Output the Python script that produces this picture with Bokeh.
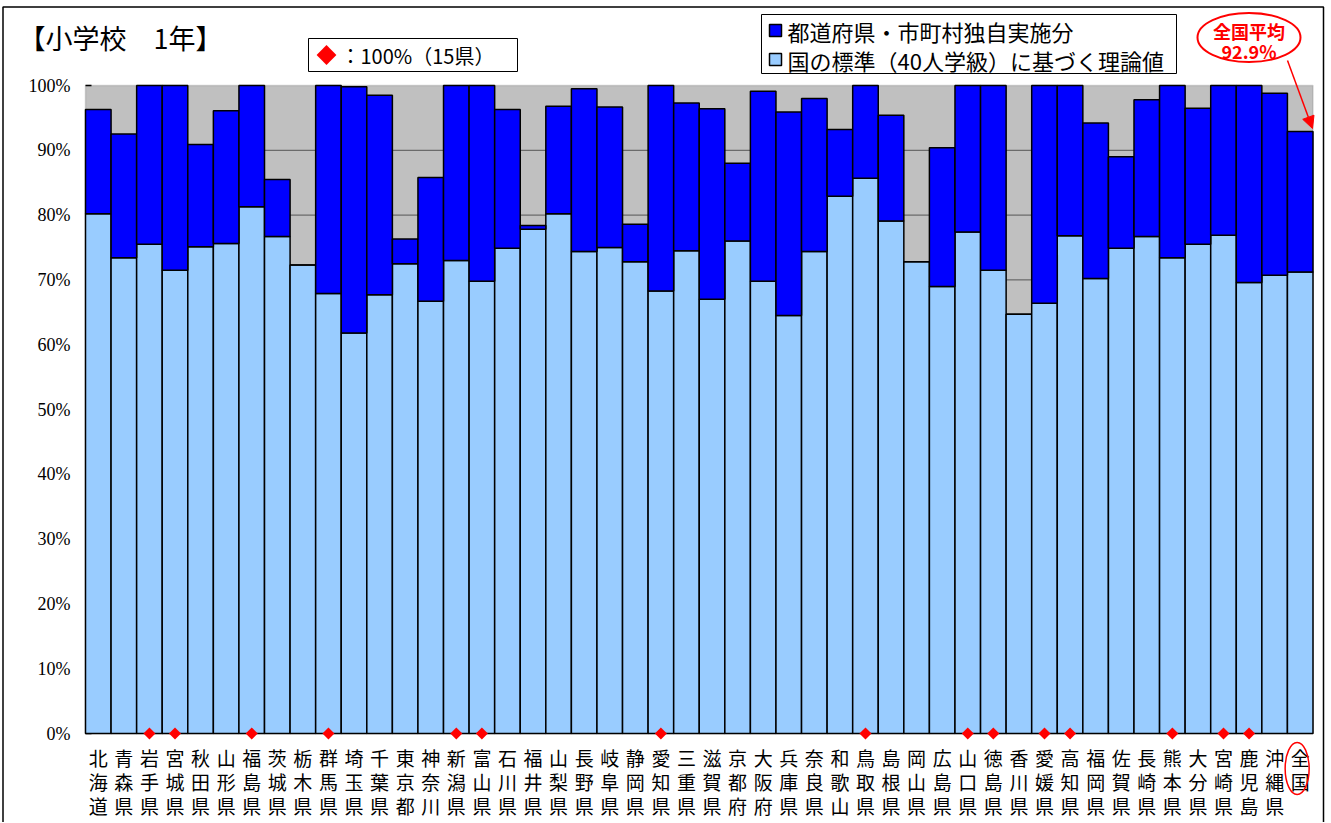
import math
from bokeh.plotting import figure
from bokeh.models import Range1d, BoxAnnotation, Arrow, NormalHead, ColumnDataSource
from bokeh.core.properties import value
from bokeh.embed import file_html
from bokeh.resources import INLINE

# ---------------- data ----------------
prefectures = ["北海道", "青森県", "岩手県", "宮城県", "秋田県", "山形県", "福島県", "茨城県",
               "栃木県", "群馬県", "埼玉県", "千葉県", "東京都", "神奈川", "新潟県", "富山県",
               "石川県", "福井県", "山梨県", "長野県", "岐阜県", "静岡県", "愛知県", "三重県",
               "滋賀県", "京都府", "大阪府", "兵庫県", "奈良県", "和歌山", "鳥取県", "島根県",
               "岡山県", "広島県", "山口県", "徳島県", "香川県", "愛媛県", "高知県", "福岡県",
               "佐賀県", "長崎県", "熊本県", "大分県", "宮崎県", "鹿児島", "沖縄県", "全国"]

# 国の標準（40人学級）に基づく理論値 (%)
national_standard = [80.2, 73.4, 75.5, 71.5, 75.1, 75.6, 81.3, 76.7,
                     72.3, 67.9, 61.8, 67.7, 72.5, 66.7, 73.0, 69.8,
                     74.9, 77.8, 80.2, 74.4, 75.0, 72.8, 68.3, 74.5,
                     67.0, 76.0, 69.8, 64.5, 74.4, 82.9, 85.7, 79.1,
                     72.8, 69.0, 77.4, 71.5, 64.7, 66.4, 76.8, 70.2,
                     74.9, 76.7, 73.4, 75.5, 76.9, 69.6, 70.7, 71.2]

# 合計（理論値＋都道府県・市町村独自実施分） (%)
total_rate = [96.3, 92.5, 100, 100, 90.9, 96.1, 100, 85.5,
              72.3, 100, 99.8, 98.5, 76.3, 85.8, 100, 100,
              96.3, 78.4, 96.8, 99.5, 96.7, 78.6, 100, 97.3,
              96.4, 88.0, 99.1, 95.9, 98.0, 93.2, 100, 95.4,
              72.8, 90.4, 100, 100, 64.7, 100, 100, 94.2,
              89.0, 97.8, 100, 96.5, 100, 100, 98.8, 92.9]

y_ticks = [0, 10, 20, 30, 40, 50, 60, 70, 80, 90, 100]
y_tick_labels = ["0%", "10%", "20%", "30%", "40%", "50%", "60%", "70%", "80%", "90%", "100%"]
series_labels = ["都道府県・市町村独自実施分", "国の標準（40人学級）に基づく理論値"]
title_text = "【小学校　1年】"
full_mark = 100
average_caption = "全国平均"

# ---------------- layout helpers (reference pixel positions) ----------------
W, H = 1330, 822
CANVAS_LEFT, CANVAS_TOP = 0, 0
FRAME_L, FRAME_R = 85, 1312.5
Y0_PX, Y100_PX = 733, 85
n = len(prefectures)
ppu_y = (Y0_PX - Y100_PX) / 100.0
ppu_x = (FRAME_R - FRAME_L) / n


def dx(px):
    return (px - FRAME_L) / ppu_x - 0.5


def dy(py):
    return (Y0_PX - py) / ppu_y


JP = "Noto Sans CJK JP"
BLUE = "#0000FF"
LIGHT = "#99CCFF"

p = figure(width=W, height=H,
           x_range=Range1d(dx(CANVAS_LEFT), dx(CANVAS_LEFT + W)),
           y_range=Range1d(dy(CANVAS_TOP + H), dy(CANVAS_TOP)),
           output_backend="svg", toolbar_location=None, title=None,
           x_axis_location=None, y_axis_location=None,
           min_border_left=0, min_border_right=0, min_border_top=0, min_border_bottom=0)
p.background_fill_color = "white"
p.border_fill_color = "white"
p.outline_line_color = None
p.grid.visible = False

# outer chart border
p.quad(left=[dx(2.5)], right=[dx(1323)], top=[dy(6.5)], bottom=[dy(860)],
       fill_color=None, line_color="black", line_width=1.5)

# gray plot area
p.add_layout(BoxAnnotation(left=-0.5, right=n - 0.5, bottom=0, top=100,
                           fill_color="#C0C0C0", fill_alpha=1,
                           line_color="#808080", line_width=1.5, level="image"))

# horizontal grid lines
grid_y = y_ticks[1:-1]
p.segment(x0=[-0.5] * len(grid_y), x1=[n - 0.5] * len(grid_y), y0=grid_y, y1=grid_y,
          line_color="#555555", line_width=1)
# inner tick marks on the value axis
p.segment(x0=[-0.5] * len(y_ticks), x1=[dx(91)] * len(y_ticks), y0=y_ticks, y1=y_ticks,
          line_color="black", line_width=1.5)
# value-axis labels
p.text(x=[dx(70)] * len(y_ticks), y=y_ticks, text=y_tick_labels,
       text_font=value("Liberation Sans Narrow"), text_font_size="18px",
       text_align="right", text_baseline="middle", text_color="black")

# stacked bars
src = ColumnDataSource(dict(x=list(range(n)), light=national_standard, total=total_rate))
p.vbar(x="x", bottom=0, top="light", width=1, source=src,
       fill_color=LIGHT, line_color="black", line_width=1.5)
p.vbar(x="x", bottom="light", top="total", width=1, source=src,
       fill_color=BLUE, line_color="black", line_width=1.5)

# 100% markers
full_idx = [i for i, t in enumerate(total_rate) if t >= full_mark]
p.scatter(x=full_idx, y=[0] * len(full_idx), marker="square", angle=math.pi / 4,
          size=8.5, fill_color="red", line_color=None)

# x category labels (stacked characters)
row_y = [dy(757), dy(781), dy(805)]
lx, ly, lt = [], [], []
for i, name in enumerate(prefectures):
    for j, ch in enumerate(name):
        lx.append(i)
        ly.append(row_y[j])
        lt.append(ch)
p.text(x=lx, y=ly, text=lt, text_font=value(JP), text_font_size="19px",
       text_align="center", text_baseline="middle", text_color="black")

# circle around 全国 label
p.ellipse(x=[n - 1.12], y=[dy(768)], width=24, height=52, width_units="screen",
          height_units="screen", fill_color=None, line_color="red", line_width=1.5)

# series legend (drawn)
p.rect(x=[dx((761 + 1176) / 2)], y=[dy((14 + 73) / 2)], width=415, height=59,
       width_units="screen", height_units="screen", fill_color="white",
       line_color="black", line_width=1)
leg_rows = [dy(30), dy(59)]
p.rect(x=[dx(775)] * 2, y=leg_rows, width=12, height=12, width_units="screen",
       height_units="screen", fill_color=[BLUE, LIGHT], line_color="black", line_width=1.5)
p.text(x=[dx(787)] * 2, y=leg_rows, text=series_labels, text_font=value(JP),
       text_font_size="22px", text_align="left", text_baseline="middle", text_color="black")

# 100% marker legend (drawn)
full_count = sum(1 for t in total_rate[:-1] if t >= full_mark)
p.rect(x=[dx(412.5)], y=[dy(54.5)], width=209, height=33, width_units="screen",
       height_units="screen", fill_color="white", line_color="black", line_width=1)
p.scatter(x=[dx(326)], y=[dy(54.5)], marker="square", angle=math.pi / 4, size=14,
          fill_color="red", line_color=None)
p.text(x=[dx(340)], y=[dy(55)], text=[f"：{full_mark}%（{full_count}県）"], text_font=value(JP),
       text_font_size="20px", text_align="left", text_baseline="middle", text_color="black")

# national average callout
p.ellipse(x=[dx(1248.5)], y=[dy(37)], width=103, height=49, width_units="screen",
          height_units="screen", fill_color="white", line_color="red", line_width=2)
p.text(x=[dx(1248.5), dx(1248.5)], y=[dy(30), dy(50)],
       text=[average_caption, f"{total_rate[-1]:.1f}%"], text_font=value(JP),
       text_font_size="18px", text_font_style="bold", text_align="center",
       text_baseline="middle", text_color="red")
p.add_layout(Arrow(end=NormalHead(size=12, fill_color="red", line_color="red"),
                   x_start=dx(1287), y_start=dy(60), x_end=dx(1312), y_end=dy(128),
                   line_color="red", line_width=1.5))

# title
p.text(x=[dx(18)], y=[dy(37)], text=[title_text], text_font=value(JP),
       text_font_size="27px", text_align="left", text_baseline="middle", text_color="black")

open("out.html", "w").write(file_html(p, INLINE))
